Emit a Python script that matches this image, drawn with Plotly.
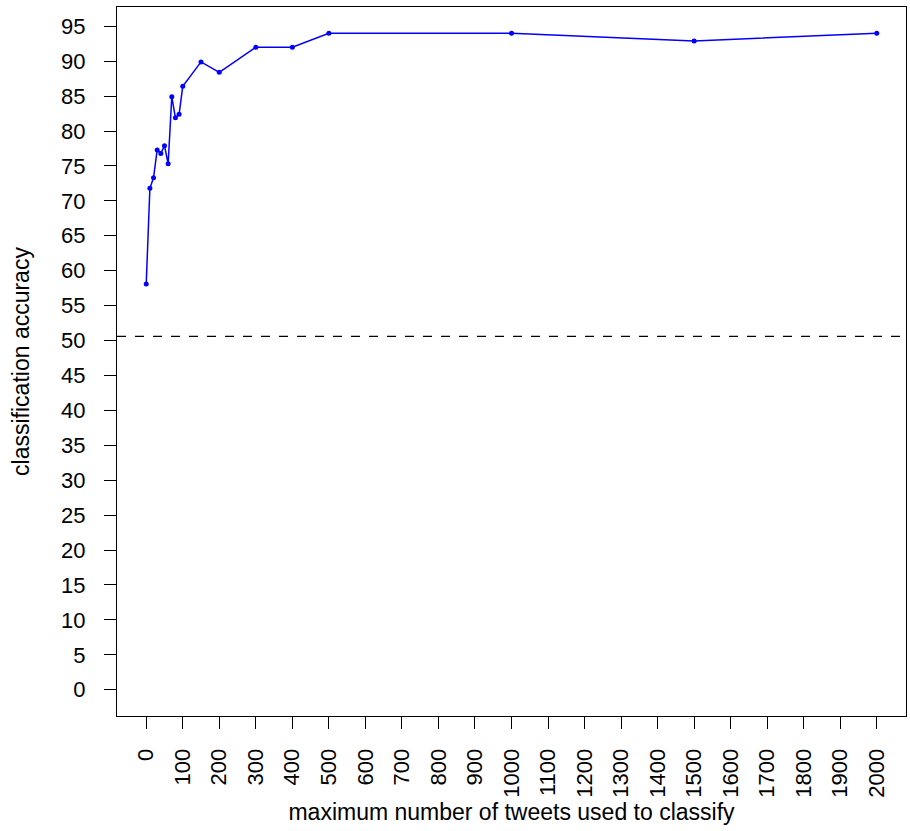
import plotly.graph_objects as go

max_tweets = [0, 10, 20, 30, 40, 50, 60, 70, 80, 90, 100, 150, 200, 300, 400, 500, 1000, 1500, 2000]
accuracy = [58.1, 71.8, 73.3, 77.3, 76.8, 77.9, 75.3, 84.9, 81.9, 82.4, 86.4, 89.9, 88.4, 92.0, 92.0, 94.0, 94.0, 92.9, 94.0]
baseline = 50.6
x_ticks = list(range(0, 2001, 100))
y_ticks = list(range(0, 96, 5))

fig = go.Figure()
fig.add_trace(go.Scatter(
    x=max_tweets, y=accuracy, mode="lines+markers",
    line=dict(color="#0000FF", width=1.5),
    marker=dict(color="#0000FF", size=5),
    showlegend=False,
))
fig.add_shape(type="line", xref="paper", x0=0, x1=1, yref="y", y0=baseline, y1=baseline,
              line=dict(color="black", width=1.2, dash="dash"))

fam = "Liberation Sans, Arial, sans-serif"
tick_font = dict(family=fam, size=22, color="black")
title_font = dict(family=fam, size=23, color="black")
fig.update_layout(
    width=910, height=831,
    margin=dict(l=117, r=4, t=7, b=115),
    plot_bgcolor="white", paper_bgcolor="white",
    font=tick_font,
    xaxis=dict(
        range=[-80, 2080], tickvals=x_ticks, ticktext=[str(v) for v in x_ticks],
        tickangle=-90, ticks="outside", ticklen=12, tickcolor="black", tickwidth=1,
        tickfont=tick_font,
        showline=True, linecolor="black", linewidth=1, mirror=True,
        showgrid=False, zeroline=False, ticklabelstandoff=11, automargin=False,
        title=dict(text="maximum number of tweets used to classify", standoff=7, font=title_font),
    ),
    yaxis=dict(
        range=[-3.76, 97.76], tickvals=y_ticks, ticktext=[str(v) for v in y_ticks],
        ticks="outside", ticklen=12, tickcolor="black", tickwidth=1,
        tickfont=tick_font,
        showline=True, linecolor="black", linewidth=1, mirror=True,
        showgrid=False, zeroline=False, ticklabelstandoff=14, automargin=False,
        title=dict(text="classification accuracy", standoff=25, font=title_font),
    ),
)
fig.write_html("out.html", config={"displayModeBar": False},
               post_script="document.body.style.margin='0px';document.body.style.overflow='hidden';")
